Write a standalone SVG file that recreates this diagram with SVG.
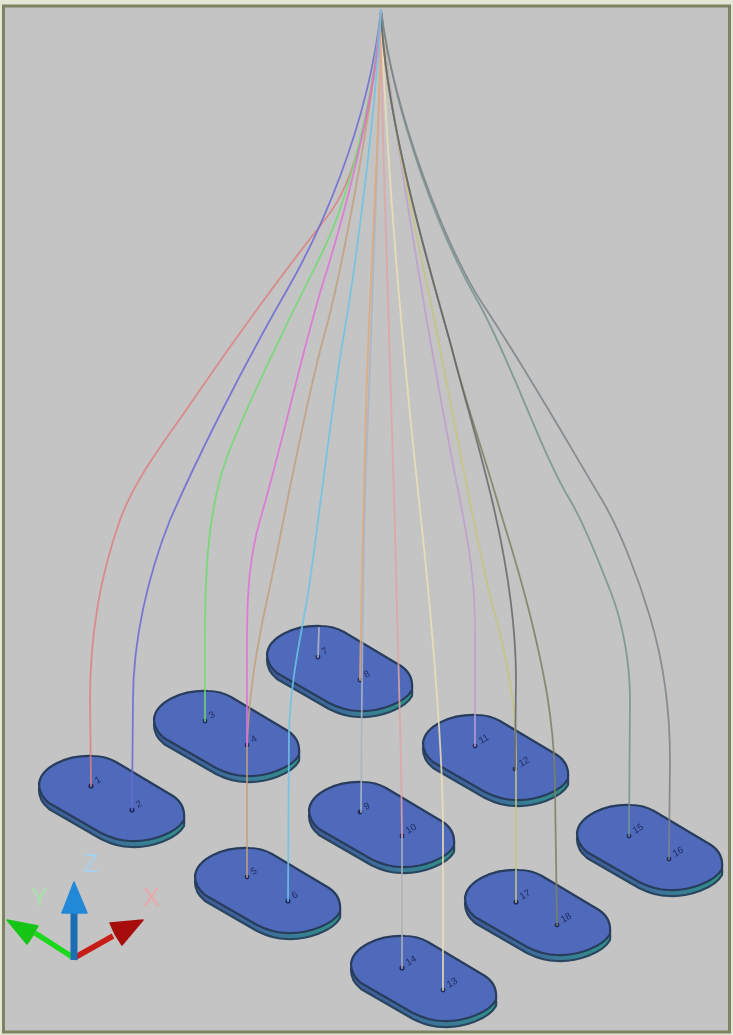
<svg xmlns="http://www.w3.org/2000/svg" width="733" height="1035" viewBox="0 0 733 1035">
<style>
.bg{fill:#c4c4c4;stroke:#7b8360;stroke-width:3}
.w{fill:none;stroke-width:1.8;stroke-opacity:.85;stroke-linecap:round}
.top{fill:#5069bb;stroke:#283c5c;stroke-width:2.2;stroke-linejoin:round}
.side{fill:url(#edge);stroke:#2a4560;stroke-width:2.2;stroke-linejoin:round}
.dot{fill:#1d2c60}
.lb{font-family:"Liberation Sans",Arial,sans-serif;font-size:9.5px;fill:#1f2c60}
.ax{font-family:"Liberation Sans",Arial,sans-serif;font-size:25px}
</style>
<defs>
<filter id="soft" x="-2%" y="-2%" width="104%" height="104%"><feGaussianBlur stdDeviation="0.75"/></filter>
<linearGradient id="edge" x1="0" x2="1" y1="0" y2="0"><stop offset="0" stop-color="#3f5a98"/><stop offset="0.5" stop-color="#3e6f9c"/><stop offset="1" stop-color="#2f9287"/></linearGradient>
<g id="pad">
<path class="side" d="M-72,-9C-70,-26-45,-38-18,-37C-8,-37-2,-35 5,-31L62,3C71,9 74,18 73,27C66,40 40,49 20,48C10,48-2,44-10,40L-62,10C-68,5-72,-2-72,-9Z"/>
<path class="top" d="M-72,-15C-70,-32-45,-44-18,-43C-8,-43-2,-41 5,-37L62,-3C71,3 74,12 73,21C66,34 40,43 20,42C10,42-2,38-10,34L-62,4C-68,-1-72,-8-72,-15Z"/>
</g>
</defs>
<rect width="733" height="1035" fill="#e4e6d6"/>
<rect class="bg" x="3.5" y="6" width="726" height="1026"/>
<g filter="url(#soft)">
<g id="pad-7-8"><use href="#pad" x="339" y="669"/><circle class="dot" cx="318" cy="657" r="2.4"/><text class="lb" transform="translate(324,655) rotate(-30)">7</text><circle class="dot" cx="360" cy="680" r="2.4"/><text class="lb" transform="translate(366,678) rotate(-30)">8</text></g>
<g id="pad-3-4"><use href="#pad" x="226" y="734"/><circle class="dot" cx="205" cy="721" r="2.4"/><text class="lb" transform="translate(211,719) rotate(-30)">3</text><circle class="dot" cx="247" cy="745" r="2.4"/><text class="lb" transform="translate(253,743) rotate(-30)">4</text></g>
<g id="pad-11-12"><use href="#pad" x="495" y="758"/><circle class="dot" cx="475" cy="746" r="2.4"/><text class="lb" transform="translate(481,744) rotate(-30)">11</text><circle class="dot" cx="515" cy="769" r="2.4"/><text class="lb" transform="translate(521,767) rotate(-30)">12</text></g>
<g id="pad-1-2"><use href="#pad" x="111" y="799"/><circle class="dot" cx="91" cy="786" r="2.6"/><text class="lb" transform="translate(97,784) rotate(-30)">1</text><circle class="dot" cx="132" cy="810" r="2.6"/><text class="lb" transform="translate(138,808) rotate(-30)">2</text></g>
<g id="pad-9-10"><use href="#pad" x="381" y="825"/><circle class="dot" cx="360" cy="812" r="2.4"/><text class="lb" transform="translate(366,810) rotate(-30)">9</text><circle class="dot" cx="402" cy="836" r="2.4"/><text class="lb" transform="translate(408,834) rotate(-30)">10</text></g>
<g id="pad-15-16"><use href="#pad" x="649" y="848"/><circle class="dot" cx="629" cy="836" r="2.4"/><text class="lb" transform="translate(635,834) rotate(-30)">15</text><circle class="dot" cx="669" cy="859" r="2.4"/><text class="lb" transform="translate(675,857) rotate(-30)">16</text></g>
<g id="pad-5-6"><use href="#pad" x="267" y="891"/><circle class="dot" cx="247" cy="877" r="2.4"/><text class="lb" transform="translate(253,875) rotate(-30)">5</text><circle class="dot" cx="288" cy="901" r="2.6"/><text class="lb" transform="translate(294,899) rotate(-30)">6</text></g>
<g id="pad-17-18"><use href="#pad" x="537" y="913"/><circle class="dot" cx="516" cy="902" r="2.6"/><text class="lb" transform="translate(522,900) rotate(-30)">17</text><circle class="dot" cx="557" cy="925" r="2.4"/><text class="lb" transform="translate(563,923) rotate(-30)">18</text></g>
<g id="pad-14-13"><use href="#pad" x="423" y="979"/><circle class="dot" cx="402" cy="968" r="2.6"/><text class="lb" transform="translate(408,966) rotate(-30)">14</text><circle class="dot" cx="443" cy="990" r="2.4"/><text class="lb" transform="translate(449,988) rotate(-30)">13</text></g>
<g id="connectors">
<path class="w" stroke="#c2a07e" d="M247,877L247,750C248,700 256,650 267,600C282,532 304,408 323,340C340,280 373,110 381,10"/>
<path class="w" stroke="#aab4c4" d="M361,812C362,640 364,500 368,417C372,310 380,100 381,10"/>
<path class="w" stroke="#e0a878" d="M360,680C362,560 366,380 371,280C375,190 381,90 381,10"/>
<path class="w" stroke="#b4b8c4" d="M318,657L319,628"/>
<path class="w" stroke="#b0b0b4" d="M402,968L402,836"/>
<path class="w" stroke="#e0a4a4" d="M402,836L401,760C399,640 392,440 388,300C385,200 381,100 381,10"/>
<path class="w" stroke="#efe0b4" d="M443,990L443,830C443,750 431,610 420,510C408,400 388,200 381,10"/>
<path class="w" stroke="#c09fd0" d="M475,746L475,630C475,585 470,550 460,500C440,400 395,150 381,10"/>
<path class="w" stroke="#c4c67e" d="M516,902L516,750C516,700 505,650 493,607C480,560 452,410 437,333C422,256 390,130 381,10"/>
<path class="w" stroke="#7e8062" d="M557,925L555,790C555,720 542,665 533,627C520,572 510,545 497,500C484,455 465,400 453,353C441,306 385,130 381,10"/>
<path class="w" stroke="#67686a" d="M515,769L516,680C516,620 505,555 492,500C479,445 465,400 453,353C441,306 385,130 381,10"/>
<path class="w" stroke="#76948e" d="M629,836L630,700C630,660 622,620 610,590C598,560 585,525 570,500C540,450 510,358 477,300C441,237 395,120 381,10"/>
<path class="w" stroke="#7e8488" d="M669,859L670,760C670,700 660,650 650,617C638,577 620,530 602,500C566,440 526,369 482,303C449,253 395,120 381,10"/>
<path class="w" stroke="#de8080" d="M91,786L90,700C90,640 100,576 120,520C135,478 168,437 193,400C238,334 290,264 327,217C358,178 376,90 381,10"/>
<path class="w" stroke="#6a6ad6" d="M132,810L133,700C133,640 148,575 170,520C194,465 237,377 287,290C317,238 368,130 381,10"/>
<path class="w" stroke="#70dc70" d="M205,721L205,640C205,570 208,510 227,457C241,419 284,328 320,257C347,204 372,110 381,10"/>
<path class="w" stroke="#e070d8" d="M247,745L247,640C247,590 250,555 260,520C280,453 305,340 323,283C341,226 374,110 381,10"/>
<path class="w" stroke="#6cc4e6" d="M288,901L289,730C291,680 300,640 307,600C318,530 331,410 343,340C356,265 376,110 381,10"/>
</g>
<g id="axes">
<path d="M74,958L35,933" stroke="#1ed81e" stroke-width="5.5" fill="none"/>
<path d="M7,920L38,926L33,935L27,944Z" fill="#16c416" stroke="#16c416" stroke-width="1.5" stroke-linejoin="round"/>
<path d="M74,958L113,936" stroke="#c81e14" stroke-width="5.5" fill="none"/>
<path d="M143,920L110,923L115,934L122,945Z" fill="#a81010" stroke="#a81010" stroke-width="1.5" stroke-linejoin="round"/>
<path d="M74,960L74,910" stroke="#1a6eb4" stroke-width="7" fill="none"/>
<path d="M74,882L62,913L87,913Z" fill="#2288d8" stroke="#2288d8" stroke-width="1.5" stroke-linejoin="round"/>
<text class="ax" x="83" y="872" fill="#a8d0ec">Z</text>
<text class="ax" x="31" y="906" fill="#a8e0a8">Y</text>
<text class="ax" x="143" y="906" fill="#eaa8a8">X</text>
</g>
</g>
</svg>
